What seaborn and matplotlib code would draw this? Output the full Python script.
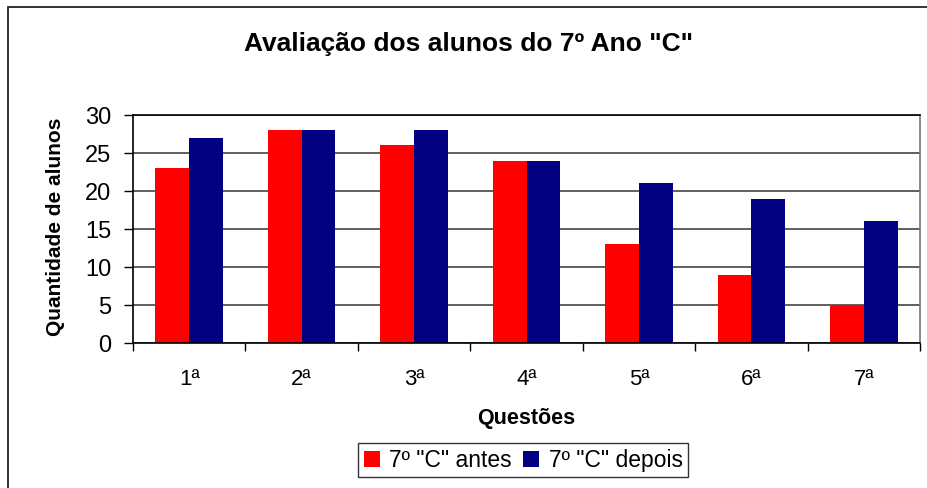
import pandas as pd
import seaborn as sns
import matplotlib.pyplot as plt
from matplotlib.patches import Rectangle

questoes = ["1ª", "2ª", "3ª", "4ª", "5ª", "6ª", "7ª"]
antes = [23, 28, 26, 24, 13, 9, 5]
depois = [27, 28, 28, 24, 21, 19, 16]
series = ['7º "C" antes', '7º "C" depois']

df = pd.DataFrame({
    "questao": questoes * 2,
    "serie": [series[0]] * len(questoes) + [series[1]] * len(questoes),
    "alunos": antes + depois,
})

sns.set_style("white")
plt.rcParams['font.family'] = ['Liberation Sans', 'DejaVu Sans']
plt.rcParams['text.color'] = 'black'
plt.rcParams['axes.labelcolor'] = 'black'
plt.rcParams['xtick.color'] = 'black'
plt.rcParams['ytick.color'] = 'black'

fig = plt.figure(figsize=(9.28, 4.88), dpi=100)
ax = fig.add_axes([0.1433, 0.2971, 0.8481, 0.4672])

sns.barplot(data=df, x="questao", y="alunos", hue="serie", order=questoes,
            palette=["#FF0000", "#000080"], width=0.6, gap=0, ax=ax,
            saturation=1, edgecolor="none", linewidth=0)

ax.set_ylim(0, 30)
ax.set_xlim(-0.5, len(questoes) - 0.5)
ax.set_yticks(range(0, 31, 5))
ax.yaxis.grid(True, color="#444444", linewidth=1.2)
ax.set_axisbelow(True)

for s in ["left", "bottom", "top"]:
    ax.spines[s].set_color("black")
    ax.spines[s].set_linewidth(1.2)
ax.spines["right"].set_color("#777777")
ax.spines["right"].set_linewidth(1.2)

ax.tick_params(axis="y", left=True, length=6.5, width=1, color="black",
               labelcolor="black", labelsize=17, pad=9)
ax.tick_params(axis="x", which="major", length=0, labelcolor="black",
               labelsize=16, pad=19)
ax.set_xticks([i - 0.5 for i in range(len(questoes) + 1)], minor=True)
ax.tick_params(axis="x", which="minor", bottom=True, length=6, width=1, color="black")

# title placed on the figure, centred like the original
fig.text(0.505, 0.91, 'Avaliação dos alunos do 7º Ano "C"', fontsize=19,
         fontweight="bold", ha="center", va="center", color="black")

ax.set_xlabel("Questões", fontsize=15.5, fontweight="bold", color="black")
ax.xaxis.set_label_coords(0.5, -0.285)
ax.set_ylabel("Quantidade de alunos", fontsize=15, fontweight="bold", color="black")
ax.yaxis.set_label_coords(-0.086, 0.51)

ax.legend_.remove()
handles, labels = ax.get_legend_handles_labels()
leg = fig.legend(handles, labels, loc="center", bbox_to_anchor=(0.564, 0.057), ncol=2,
                 fontsize=16.5, frameon=True, fancybox=False, edgecolor="black",
                 handlelength=0.7, handleheight=0.7, handletextpad=0.4,
                 columnspacing=0.5, borderpad=0.25, borderaxespad=0)
leg.get_frame().set_linewidth(1)

fig.patches.append(Rectangle((8.5 / 928, -0.1), 1.2, 0.1 + (1 - 7 / 488),
                             transform=fig.transFigure, fill=False,
                             edgecolor="#222222", linewidth=1.3))

fig.savefig("out.png", dpi=100)
